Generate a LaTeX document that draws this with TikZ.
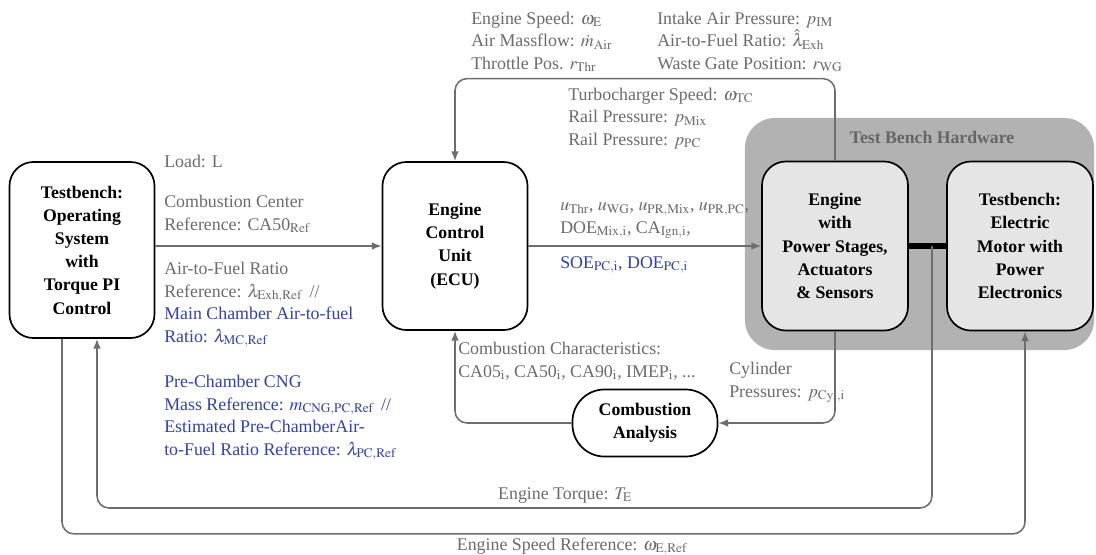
\documentclass[tikz,border=0pt]{standalone}
\usepackage{mathptmx}
\usepackage{fontspec}
\setmainfont{Liberation Serif}
\usetikzlibrary{arrows.meta}
\definecolor{labelgray}{HTML}{6B6B6B}
\definecolor{labelblue}{HTML}{3343A3}
\definecolor{linegray}{HTML}{6E6E6E}

\begin{document}
\begin{tikzpicture}[x=0.025cm,y=-0.025cm,>={Latex[length=7pt,width=5.5pt]},font=\fontsize{12.7}{16}\selectfont]
		\tikzstyle{block}=[draw,line width=1.2pt,rounded corners=0.6cm,align=center,font=\fontsize{12.6}{16.5}\selectfont\bfseries]
		\tikzstyle{hwblock}=[block,fill=black!10,minimum width=3.65cm,minimum height=4.225cm]
		\tikzstyle{lbl}=[anchor=base west,inner sep=0pt,align=left,text=labelgray]
		\tikzstyle{signal}=[->,draw=linegray,line width=1.1pt,rounded corners=0.3cm]

		\useasboundingbox (0,0) rectangle (1096,554);

		% test bench hardware
		\node[fill=black!30,rounded corners=0.75cm,minimum width=8.725cm,minimum height=5.8cm](hw) at (919.5,234){};
		\node[anchor=base,font=\fontsize{12.6}{15}\selectfont\bfseries,text=black!60](hwtitle) at (932,143){Test Bench Hardware};

		\node[block,minimum width=3.625cm,minimum height=4.4cm](tb) at (82,250){Testbench:\\Operating\\System\\with\\Torque PI\\Control};
		\node[block,minimum width=3.625cm,minimum height=4.2cm](ecu) at (455,246){Engine\\Control\\Unit\\(ECU)};
		\node[hwblock](eng) at (835,246){Engine\\with\\Power Stages,\\Actuators\\\& Sensors};
		\node[hwblock](mot) at (1020,246){Testbench:\\Electric\\Motor with\\Power\\Electronics};
		\node[block,rounded corners=0.8cm,minimum width=3.625cm,minimum height=1.675cm](ca) at (645,423){Combustion\\Analysis};

		\coordinate (shaft) at (932,246);
		\draw[line width=4pt] (eng.east) -- (mot.west);

		\draw[signal] (tb.east |- ecu.west) -- (ecu.west);
		\draw[signal] (ecu.east) -- (eng.west);
		\draw[signal] (eng.north) -- ++(0,-82) -| (ecu.north);
		\draw[signal] (eng.south) |- (ca.east);
		\draw[signal] (ca.west) -| (ecu.south);
		\draw[signal] (shaft) -- ++(0,262) -| ([xshift=0.375cm]tb.south);
		\draw[signal] ([xshift=-0.5cm]tb.south) -- ++(0,195) -| ([xshift=0.125cm]mot.south);

		% signal labels (base = last line)
		\node[lbl](meas1) at (471,69){Engine Speed: $\omega_{\mathrm{E}}$\\Air Massflow: $\dot{m}_{\mathrm{Air}}$\\Throttle Pos. $r_{\mathrm{Thr}}$};
		\node[lbl](meas2) at (657,69){Intake Air Pressure: $p_{\mathrm{IM}}$\\Air-to-Fuel Ratio: $\hat{\lambda}_{\mathrm{Exh}}$\\Waste Gate Position: $r_{\mathrm{WG}}$};
		\node[lbl](meas3) at (568,145){Turbocharger Speed: $\omega_{\mathrm{TC}}$\\Rail Pressure: $p_{\mathrm{Mix}}$\\Rail Pressure: $p_{\mathrm{PC}}$};

		\node[lbl](load) at (164,167){Load: L};
		\node[lbl](ca50) at (164,230){Combustion Center\\Reference: CA50$_{\mathrm{Ref}}$};
		\node[lbl](afr) at (164,342){Air-to-Fuel Ratio\\Reference: $\lambda_{\mathrm{Exh,Ref}}$ \,//\\{\color{labelblue}Main Chamber Air-to-fuel}\\{\color{labelblue}Ratio: $\lambda_{\mathrm{MC,Ref}}$}};
		\node[lbl,text=labelblue](pcref) at (164,455){Pre-Chamber CNG\\Mass Reference: $m_{\mathrm{CNG,PC,Ref}}$ \,//\\Estimated Pre-ChamberAir-\\to-Fuel Ratio Reference: $\lambda_{\mathrm{PC,Ref}}$};

		\node[lbl](act) at (560,233){$u_{\mathrm{Thr}}$, $u_{\mathrm{WG}}$, $u_{\mathrm{PR,Mix}}$, $u_{\mathrm{PR,PC}}$,\\DOE$_{\mathrm{Mix,i}}$, CA$_{\mathrm{Ign,i}}$,};
		\node[lbl,text=labelblue](actpc) at (560,268){SOE$_{\mathrm{PC,i}}$, DOE$_{\mathrm{PC,i}}$};

		\node[lbl](cchar) at (458,377){Combustion Characteristics:\\CA05$_{\mathrm{i}}$, CA50$_{\mathrm{i}}$, CA90$_{\mathrm{i}}$, IMEP$_{\mathrm{i}}$, ...};
		\node[lbl](pcyl) at (729,397){Cylinder\\Pressures: $p_{\mathrm{Cyl,i}}$};

		\node[lbl,anchor=base](torque) at (565,499){Engine Torque: $T_{\mathrm{E}}$};
		\node[lbl,anchor=base](speedref) at (572,550){Engine Speed Reference: $\omega_{\mathrm{E,Ref}}$};
\end{tikzpicture}
\end{document}
